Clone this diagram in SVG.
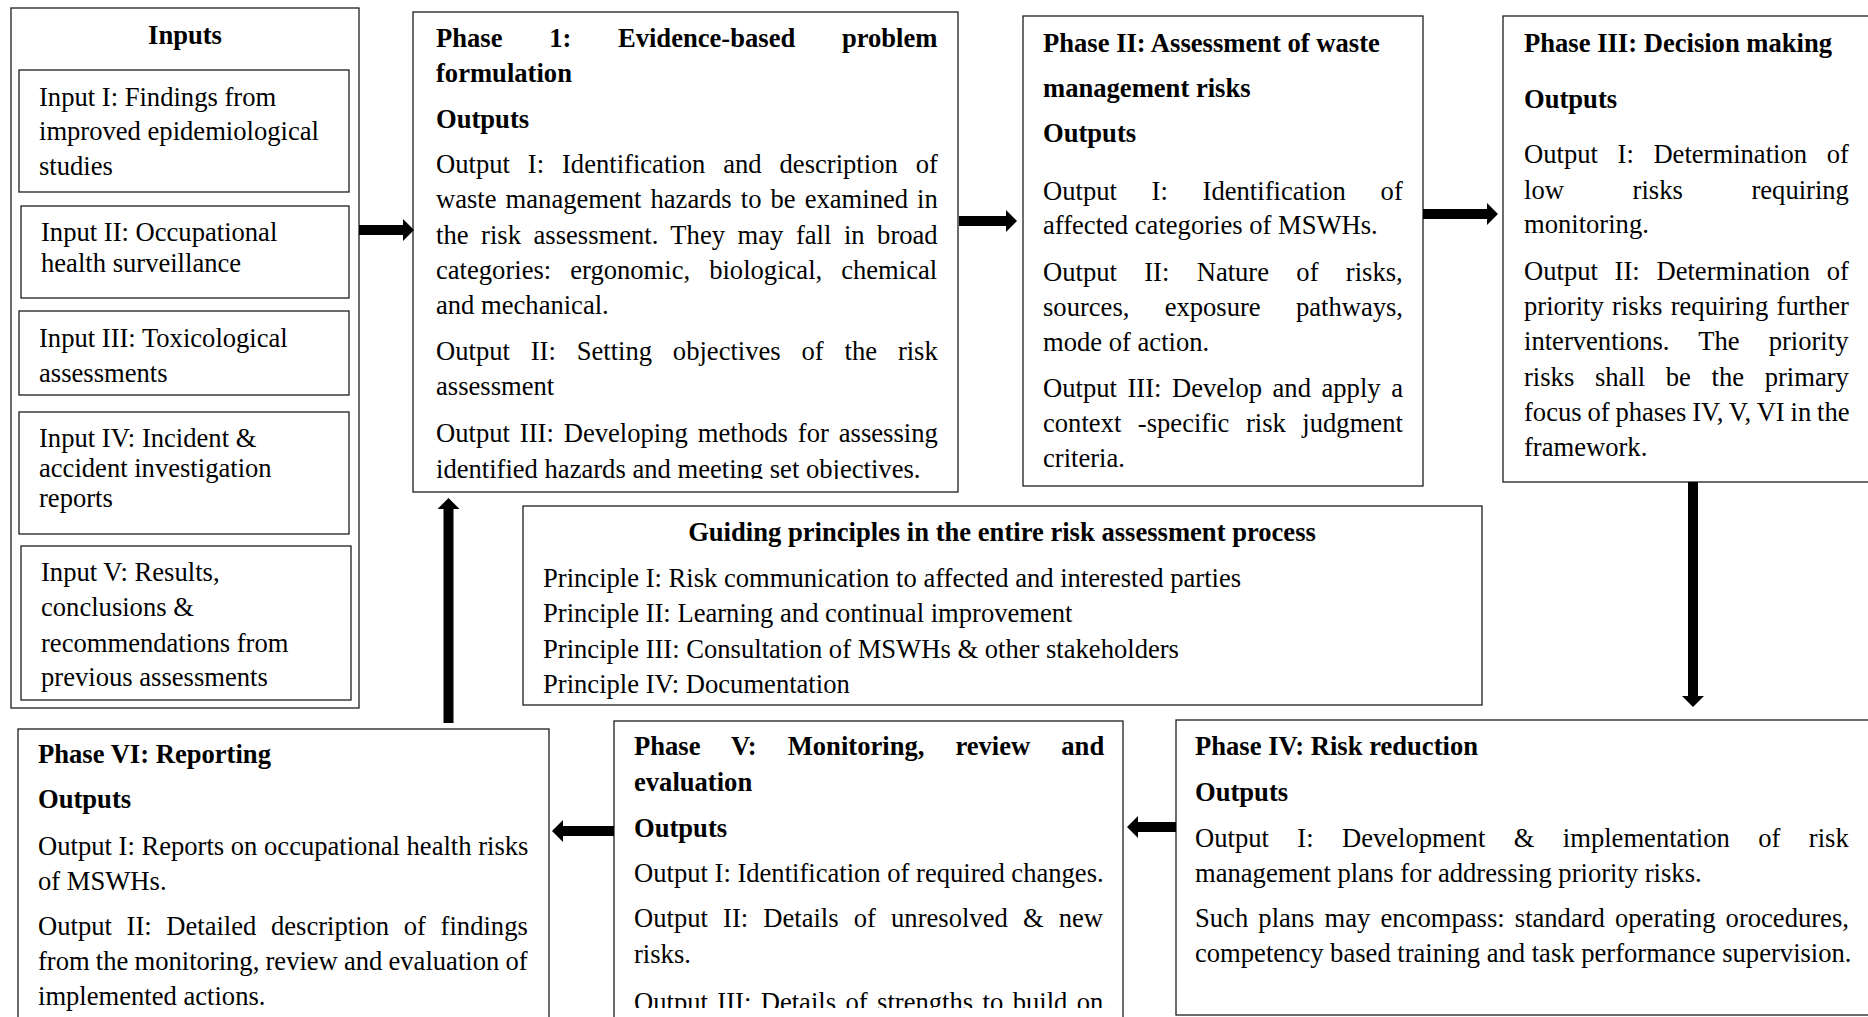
<svg xmlns="http://www.w3.org/2000/svg" width="1868" height="1017" viewBox="0 0 1868 1017">
<style>
.box{fill:#fff;stroke:#1e1e1e;stroke-width:1.3}
.t{font-family:"Liberation Serif","Times New Roman",serif;font-size:26.6px;fill:#000}
.b{font-weight:bold}
.c{text-anchor:middle}
.arr{stroke:#000;stroke-width:10;fill:none;marker-end:url(#ah)}
</style>
<defs>
<marker id="ah" viewBox="0 0 11 22" refX="0" refY="11" markerWidth="11" markerHeight="22" markerUnits="userSpaceOnUse" orient="auto">
<path d="M0,0 L11,11 L0,22 Z" fill="#000"/>
</marker>
<clipPath id="clipP1"><rect x="0" y="0" width="1868" height="479"/></clipPath>
<clipPath id="clipP5"><rect x="0" y="0" width="1868" height="1008"/></clipPath>
</defs>
<rect width="1868" height="1017" fill="#fff"/>

<g id="inputs">
<rect class="box" x="11" y="8" width="348" height="700"/>
<text class="t b c" x="185" y="44">Inputs</text>
<g id="input1">
<rect class="box" x="19" y="70" width="330" height="122"/>
<text class="t" x="39" y="106">Input I: Findings from</text>
<text class="t" x="39" y="140">improved epidemiological</text>
<text class="t" x="39" y="175">studies</text>
</g>
<g id="input2">
<rect class="box" x="21" y="206" width="328" height="92"/>
<text class="t" x="41" y="241">Input II: Occupational</text>
<text class="t" x="41" y="272">health surveillance</text>
</g>
<g id="input3">
<rect class="box" x="19" y="311" width="330" height="84"/>
<text class="t" x="39" y="347">Input III: Toxicological</text>
<text class="t" x="39" y="382">assessments</text>
</g>
<g id="input4">
<rect class="box" x="19" y="412" width="330" height="122"/>
<text class="t" x="39" y="447">Input IV: Incident &amp;</text>
<text class="t" x="39" y="477">accident investigation</text>
<text class="t" x="39" y="507">reports</text>
</g>
<g id="input5">
<rect class="box" x="21" y="546" width="330" height="154"/>
<text class="t" x="41" y="581">Input V: Results,</text>
<text class="t" x="41" y="616">conclusions &amp;</text>
<text class="t" x="41" y="652">recommendations from</text>
<text class="t" x="41" y="686">previous assessments</text>
</g>
</g>

<g id="phase1">
<rect class="box" x="413" y="12" width="545" height="480"/>
<text class="t b" x="436" y="47" style="word-spacing:40px">Phase 1: Evidence-based problem</text>
<text class="t b" x="436" y="82">formulation</text>
<text class="t b" x="436" y="128">Outputs</text>
<text class="t" x="436" y="173" style="word-spacing:11.3px">Output I: Identification and description of</text>
<text class="t" x="436" y="208" style="word-spacing:2.4px">waste management hazards to be examined in</text>
<text class="t" x="436" y="244" style="word-spacing:5.9px">the risk assessment. They may fall in broad</text>
<text class="t" x="436" y="279" style="word-spacing:12.4px">categories: ergonomic, biological, chemical</text>
<text class="t" x="436" y="314">and mechanical.</text>
<text class="t" x="436" y="360" style="word-spacing:14.2px">Output II: Setting objectives of the risk</text>
<text class="t" x="436" y="395">assessment</text>
<text class="t" x="436" y="442" style="word-spacing:3.3px">Output III: Developing methods for assessing</text>
<text class="t" x="436" y="478" clip-path="url(#clipP1)">identified hazards and meeting set objectives.</text>
</g>

<g id="phase2">
<rect class="box" x="1023" y="16" width="400" height="470"/>
<text class="t b" x="1043" y="52">Phase II: Assessment of waste</text>
<text class="t b" x="1043" y="97">management risks</text>
<text class="t b" x="1043" y="142">Outputs</text>
<text class="t" x="1043" y="200" style="word-spacing:28.1px">Output I: Identification of</text>
<text class="t" x="1043" y="234">affected categories of MSWHs.</text>
<text class="t" x="1043" y="281" style="word-spacing:20.7px">Output II: Nature of risks,</text>
<text class="t" x="1043" y="316" style="word-spacing:28.6px">sources, exposure pathways,</text>
<text class="t" x="1043" y="351">mode of action.</text>
<text class="t" x="1043" y="397" style="word-spacing:3.9px">Output III: Develop and apply a</text>
<text class="t" x="1043" y="432" style="word-spacing:9.9px">context -specific risk judgment</text>
<text class="t" x="1043" y="467">criteria.</text>
</g>

<g id="phase3">
<rect class="box" x="1503" y="16" width="380" height="466"/>
<text class="t b" x="1524" y="52">Phase III: Decision making</text>
<text class="t b" x="1524" y="108">Outputs</text>
<text class="t" x="1524" y="163" style="word-spacing:13px">Output I: Determination of</text>
<text class="t" x="1524" y="199" style="word-spacing:62px">low risks requiring</text>
<text class="t" x="1524" y="233">monitoring.</text>
<text class="t" x="1524" y="280" style="word-spacing:10.1px">Output II: Determination of</text>
<text class="t" x="1524" y="315" style="word-spacing:1.7px">priority risks requiring further</text>
<text class="t" x="1524" y="350" style="word-spacing:22.5px">interventions. The priority</text>
<text class="t" x="1524" y="386" style="word-spacing:14px">risks shall be the primary</text>
<text class="t" x="1524" y="421" style="word-spacing:-0.8px">focus of phases IV, V, VI in the</text>
<text class="t" x="1524" y="456">framework.</text>
</g>

<g id="guiding">
<rect class="box" x="523" y="506" width="959" height="199"/>
<text class="t b c" x="1002" y="541">Guiding principles in the entire risk assessment process</text>
<text class="t" x="543" y="587">Principle I: Risk communication to affected and interested parties</text>
<text class="t" x="543" y="622">Principle II: Learning and continual improvement</text>
<text class="t" x="543" y="658">Principle III: Consultation of MSWHs &amp; other stakeholders</text>
<text class="t" x="543" y="693">Principle IV: Documentation</text>
</g>

<g id="phase6">
<rect class="box" x="18" y="729" width="531" height="300"/>
<text class="t b" x="38" y="763">Phase VI: Reporting</text>
<text class="t b" x="38" y="808">Outputs</text>
<text class="t" x="38" y="855">Output I: Reports on occupational health risks</text>
<text class="t" x="38" y="890">of MSWHs.</text>
<text class="t" x="38" y="935" style="word-spacing:8px">Output II: Detailed description of findings</text>
<text class="t" x="38" y="970" style="word-spacing:-0.5px">from the monitoring, review and evaluation of</text>
<text class="t" x="38" y="1005">implemented actions.</text>
</g>

<g id="phase5">
<rect class="box" x="614" y="721" width="509" height="310"/>
<text class="t b" x="634" y="755" style="word-spacing:24.4px">Phase V: Monitoring, review and</text>
<text class="t b" x="634" y="791">evaluation</text>
<text class="t b" x="634" y="837">Outputs</text>
<text class="t" x="634" y="882">Output I: Identification of required changes.</text>
<text class="t" x="634" y="927" style="word-spacing:8.5px">Output II: Details of unresolved &amp; new</text>
<text class="t" x="634" y="963">risks.</text>
<text class="t" x="634" y="1011" style="word-spacing:2.8px" clip-path="url(#clipP5)">Output III: Details of strengths to build on.</text>
</g>

<g id="phase4">
<rect class="box" x="1176" y="720" width="710" height="295"/>
<text class="t b" x="1195" y="755">Phase IV: Risk reduction</text>
<text class="t b" x="1195" y="801">Outputs</text>
<text class="t" x="1195" y="847" style="word-spacing:21.8px">Output I: Development &amp; implementation of risk</text>
<text class="t" x="1195" y="882">management plans for addressing priority risks.</text>
<text class="t" x="1195" y="927" style="word-spacing:3.5px">Such plans may encompass: standard operating orocedures,</text>
<text class="t" x="1195" y="962">competency based training and task performance supervision.</text>
</g>

<g id="connectors">
<line class="arr" x1="359" y1="230" x2="403" y2="230"/>
<line class="arr" x1="959" y1="221" x2="1006" y2="221"/>
<line class="arr" x1="1423" y1="214" x2="1487" y2="214"/>
<line class="arr" x1="1693" y1="482" x2="1693" y2="696"/>
<line class="arr" x1="1176" y1="827" x2="1138" y2="827"/>
<line class="arr" x1="614" y1="831" x2="563" y2="831"/>
<line class="arr" x1="448.5" y1="723" x2="448.5" y2="509"/>
</g>
</svg>
